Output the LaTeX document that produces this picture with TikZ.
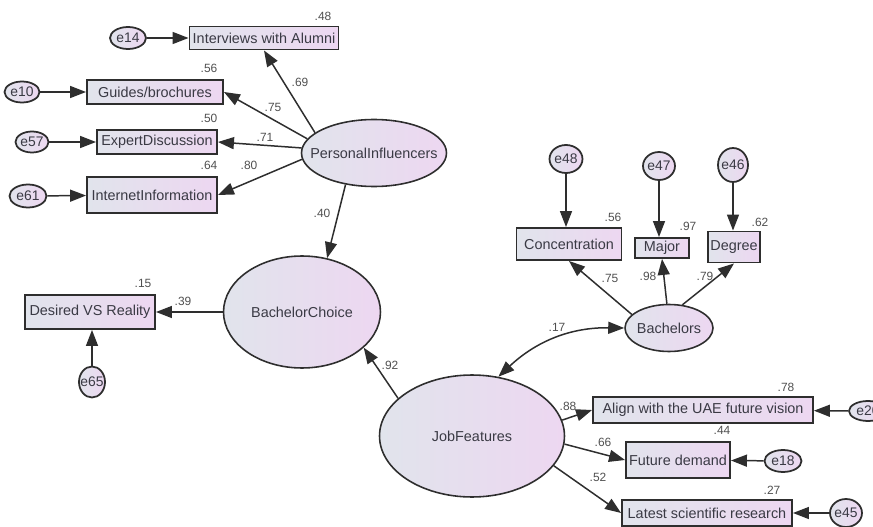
\documentclass[tikz,border=0pt]{standalone}
\usepackage{fontspec}
\setmainfont{Liberation Sans}
\usetikzlibrary{arrows.meta,shapes.geometric}
\definecolor{inkgray}{HTML}{2E2E2E}
\definecolor{graytext}{HTML}{3A3A44}
\definecolor{coefgray}{HTML}{505050}
\definecolor{fillleft}{HTML}{E1E4EC}
\definecolor{fillright}{HTML}{EDD7F1}
\newcommand{\ctext}[1]{\makebox[0pt]{#1}}
\tikzset{
  obs/.style={rectangle,draw=inkgray,line width=1.1pt,left color=fillleft,right color=fillright,inner sep=0pt,font=\fontsize{8.2}{9}\selectfont,text=graytext},
  latent/.style={ellipse,draw=inkgray,line width=0.9pt,left color=fillleft,right color=fillright,inner sep=0pt,font=\fontsize{8.2}{9}\selectfont,text=graytext},
  err/.style={latent,line width=1pt,font=\fontsize{7.9}{9}\selectfont},
  coef/.style={font=\fontsize{6.8}{8}\selectfont,text=coefgray,inner sep=0pt},
  arr/.style={-{Triangle[length=3.2mm,width=2.4mm]},draw=inkgray,line width=0.85pt},
  arrboth/.style={{Triangle[length=3.2mm,width=2.4mm]}-{Triangle[length=3.2mm,width=2.4mm]},draw=inkgray,line width=0.85pt}
}

\begin{document}
\begin{tikzpicture}[x=0.02cm,y=-0.02cm]
\path[use as bounding box] (0,0) rectangle (873,527);

% observed variables
\node[obs,minimum width=2.98cm,minimum height=0.46cm] (intv) at (264,38) {Interviews with Alumni};
\node[obs,minimum width=2.72cm,minimum height=0.48cm] (guides) at (155,92) {Guides/brochures};
\node[obs,minimum width=2.40cm,minimum height=0.48cm] (expert) at (157,142) {ExpertDiscussion};
\node[obs,minimum width=2.60cm,minimum height=0.72cm] (internet) at (152,195) {InternetInformation};
\node[obs,minimum width=2.60cm,minimum height=0.68cm] (desired) at (90,312) {Desired VS Reality};
\node[obs,minimum width=2.10cm,minimum height=0.64cm] (conc) at (569,244) {Concentration};
\node[obs,minimum width=1.08cm,minimum height=0.40cm] (major) at (662,248) {Major};
\node[obs,minimum width=1.04cm,minimum height=0.62cm] (degree) at (734,247) {Degree};
\node[obs,minimum width=4.40cm,minimum height=0.52cm] (align) at (703,410) {Align with the UAE future vision};
\node[obs,minimum width=2.08cm,minimum height=0.72cm] (fd) at (678,460) {Future demand};
\node[obs,minimum width=3.40cm,minimum height=0.52cm] (latest) at (707,513) {Latest scientific research};

% latent variables
\node[latent,minimum width=2.90cm,minimum height=1.34cm] (pi) at (374,153) {\ctext{PersonalInfluencers}};
\node[latent,minimum width=3.14cm,minimum height=2.24cm] (bc) at (302,312) {\ctext{BachelorChoice}};
\node[latent,minimum width=1.76cm,minimum height=0.94cm] (bach) at (669,328) {\ctext{Bachelors}};
\node[latent,minimum width=3.70cm,minimum height=2.44cm] (jf) at (472,436) {\ctext{JobFeatures}};

% error terms
\foreach \n/\x/\y/\w/\h in {e14/128/38/0.72/0.44,e10/22/92/0.70/0.42,e57/32/142/0.66/0.42,e61/28/196/0.74/0.46,
  e65/92/382/0.52/0.62,e48/566/159/0.66/0.56,e47/659/166/0.64/0.56,e46/733/165/0.60/0.68,
  e20/868/411/0.76/0.40,e18/783/461/0.74/0.44,e45/846/513/0.64/0.56}{
\node[err,minimum width=\w cm,minimum height=\h cm] (\n) at (\x,\y) {\ctext{\n}};
}

% error paths
\draw[arr] (e14) -- (intv);
\draw[arr] (e10) -- (guides);
\draw[arr] (e57) -- (expert);
\draw[arr] (e61) -- (internet);
\draw[arr] (e65) -- (e65 |- desired.south);
\draw[arr] (e48) -- (e48 |- conc.north);
\draw[arr] (e47) -- (e47 |- major.north);
\draw[arr] (e46) -- (e46 |- degree.north);
\draw[arr] (e20) -- (align);
\draw[arr] (e18) -- (fd);
\draw[arr] (e45) -- (latest);

% structural paths
\draw[arr] (pi.161) -- (intv.south);
\draw[arr] (pi.168) -- (guides.east);
\draw[arr] (pi.176) -- (expert.east);
\draw[arr] (pi.185) -- (internet.east);
\draw[arr] (pi.228) -- (bc.65);
\draw[arr] (bc) -- (desired);
\draw[arr] (jf.153) -- (bc.330);
\draw[arrboth] (bach.west) to[bend right=22] (jf.66);
\draw[arr] (bach.160) -- (conc.south);
\draw[arr] (bach.95) -- (major.south);
\draw[arr] (bach.60) -- (degree.south);
\draw[arr] (jf.10) -- (align.west);
\draw[arr] (jf.-5) -- (fd.west);
\draw[arr] (jf.-20) -- (latest.west);

% coefficients
\foreach \x/\y/\t [count=\i] in {323/16/.48,209/68/.56,209/118/.50,209/165/.64,300/82/.69,273/107/.75,265/137/.71,249/165/.80,
  322/213/.40,143/283/.15,183/301/.39,390/365/.92,557/327/.17,613/217/.56,688/226/.97,760/222/.62,
  610/278/.75,648/276/.98,705/276/.79,786/387/.78,568/406/.88,722/430/.44,603/442/.66,772/490/.27,598/477/.52}{
\node[coef] (c\i) at (\x,\y) {\t};
}
\end{tikzpicture}
\end{document}
